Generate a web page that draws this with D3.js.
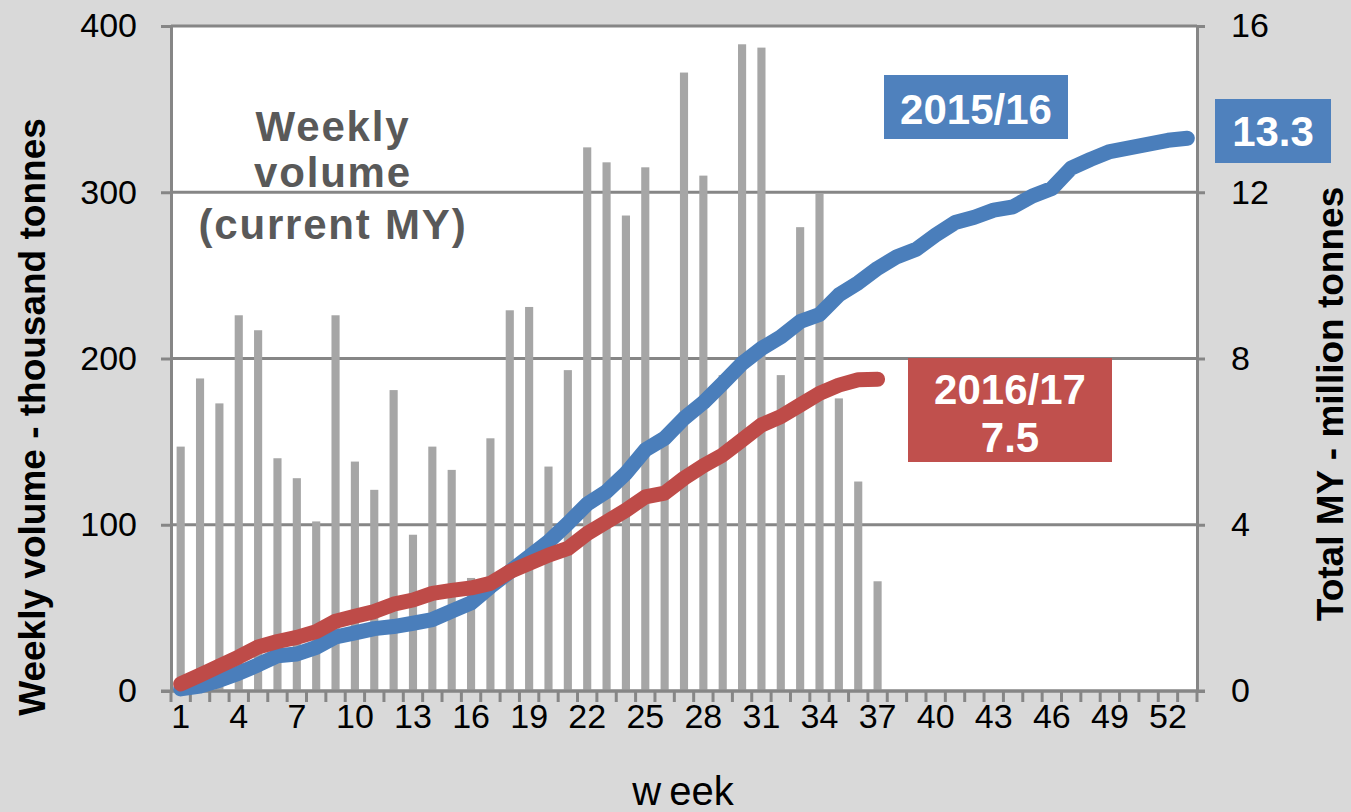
<!DOCTYPE html>
<html>
<head>
<meta charset="utf-8">
<script src="https://cdn.jsdelivr.net/npm/d3@7"></script>
<style>
  html, body { margin: 0; padding: 0; background: #d9d9d9; }
  svg { display: block; font-family: "Liberation Sans", Arial, sans-serif; }
</style>
</head>
<body>
<svg id="chart" width="1351" height="812"></svg>
<script>
// Weeks of the marketing year
const weeks = d3.range(1, 54);
const weekTickLabels = [1, 4, 7, 10, 13, 16, 19, 22, 25, 28, 31, 34, 37, 40, 43, 46, 49, 52];

// Weekly volume, current MY (thousand tonnes), weeks 1-37
const weeklyVolume = [
  147, 188, 173, 226, 217, 140, 128, 102, 226, 138,
  121, 181, 94, 147, 133, 68, 152, 229, 231, 135,
  193, 327, 318, 286, 315, 155, 372, 310, 190, 389,
  387, 190, 279, 299, 176, 126, 66
];

// Cumulative total, 2015/16 (million tonnes), weeks 1-53
const total2015 = [
  0.05, 0.12, 0.26, 0.43, 0.63, 0.85, 0.89, 1.05, 1.30, 1.40,
  1.50, 1.55, 1.63, 1.72, 1.92, 2.12, 2.51, 2.87, 3.23, 3.59,
  4.03, 4.50, 4.80, 5.24, 5.80, 6.08, 6.56, 6.94, 7.40, 7.88,
  8.24, 8.52, 8.89, 9.06, 9.53, 9.82, 10.17, 10.45, 10.63, 10.97,
  11.27, 11.40, 11.57, 11.65, 11.91, 12.09, 12.58, 12.79, 12.98, 13.07,
  13.16, 13.25, 13.3
];

// Cumulative total, 2016/17 (million tonnes), weeks 1-37
const total2016 = [
  0.17, 0.38, 0.60, 0.82, 1.06, 1.19, 1.29, 1.43, 1.68, 1.80,
  1.91, 2.09, 2.19, 2.35, 2.42, 2.48, 2.59, 2.87, 3.07, 3.27,
  3.43, 3.79, 4.07, 4.35, 4.67, 4.76, 5.12, 5.42, 5.68, 6.04,
  6.40, 6.60, 6.88, 7.16, 7.36, 7.49, 7.5
];

const leftTicks = [0, 100, 200, 300, 400];
const rightTicks = [0, 4, 8, 12, 16];

const svg = d3.select("#chart");
const W = 1351, H = 812;
const plot = { left: 171, right: 1197, top: 26, bottom: 691 };
const axisGrey = "#868686";
const barGrey = "#a6a6a6";
const blue = "#4a7ebb", blueBox = "#4f81bd";
const red = "#be4b48", redBox = "#c0504d";

svg.append("rect").attr("width", W).attr("height", H).attr("fill", "#d9d9d9");
svg.append("rect")
  .attr("x", plot.left).attr("y", plot.top)
  .attr("width", plot.right - plot.left).attr("height", plot.bottom - plot.top)
  .attr("fill", "#fff");

const x = d3.scaleBand().domain(weeks).range([plot.left, plot.right]).padding(0);
const yL = d3.scaleLinear().domain([0, 400]).range([plot.bottom, plot.top]);
const yR = d3.scaleLinear().domain([0, 16]).range([plot.bottom, plot.top]);
const cx = w => x(w) + x.bandwidth() / 2;

// horizontal gridlines
svg.append("g").selectAll("line").data(leftTicks).join("line")
  .attr("x1", plot.left).attr("x2", plot.right)
  .attr("y1", d => yL(d)).attr("y2", d => yL(d))
  .attr("stroke", axisGrey).attr("stroke-width", 3);

// weekly bars
const barW = x.bandwidth() * 0.42;
svg.append("g").selectAll("rect").data(weeklyVolume).join("rect")
  .attr("x", (d, i) => cx(weeks[i]) - barW / 2)
  .attr("width", barW)
  .attr("y", d => yL(d))
  .attr("height", d => yL(0) - yL(d))
  .attr("fill", barGrey);

// axes
const styleAxis = g => {
  g.selectAll(".domain").attr("stroke", axisGrey).attr("stroke-width", 3);
  g.selectAll(".tick line").attr("stroke", axisGrey).attr("stroke-width", 3);
  g.selectAll(".tick text").attr("fill", "#000").style("font-size", "34px")
    .style("font-family", "'Liberation Sans', Arial, sans-serif");
};

svg.append("g").attr("transform", `translate(${plot.left},0)`)
  .call(d3.axisLeft(yL).tickValues(leftTicks).tickSize(10).tickSizeOuter(0).tickPadding(24))
  .call(styleAxis);

svg.append("g").attr("transform", `translate(${plot.right},0)`)
  .call(d3.axisRight(yR).tickValues(rightTicks).tickSize(8).tickSizeOuter(0).tickPadding(26))
  .call(styleAxis);

const xAxis = svg.append("g").attr("transform", `translate(0,${plot.bottom})`)
  .call(d3.axisBottom(x).tickValues(weekTickLabels).tickSize(0).tickSizeOuter(0).tickPadding(13))
  .call(styleAxis);
xAxis.selectAll(".domain").remove();

// category-boundary tick marks
const boundaries = weeks.map(w => x(w)).concat([plot.right]);
svg.append("g").selectAll("line").data(boundaries).join("line")
  .attr("x1", d => d).attr("x2", d => d)
  .attr("y1", plot.bottom).attr("y2", plot.bottom + 11)
  .attr("stroke", axisGrey).attr("stroke-width", 3);
svg.append("line")
  .attr("x1", plot.left - 10).attr("x2", plot.right + 8)
  .attr("y1", plot.bottom).attr("y2", plot.bottom)
  .attr("stroke", axisGrey).attr("stroke-width", 3);

// cumulative lines
const line = d3.line().x((d, i) => cx(weeks[i])).y(d => yR(d));
svg.append("path").datum(total2015).attr("d", line)
  .attr("fill", "none").attr("stroke", blue).attr("stroke-width", 15)
  .attr("stroke-linecap", "round").attr("stroke-linejoin", "round");
svg.append("path").datum(total2016).attr("d", line)
  .attr("fill", "none").attr("stroke", red).attr("stroke-width", 15)
  .attr("stroke-linecap", "round").attr("stroke-linejoin", "round");

// axis titles
svg.append("text")
  .attr("transform", "translate(45,417) rotate(-90)")
  .attr("text-anchor", "middle").attr("font-weight", "bold").attr("font-size", 37)
  .attr("fill", "#000").text("Weekly volume - thousand tonnes");
svg.append("text")
  .attr("transform", "translate(1343,404) rotate(-90)")
  .attr("text-anchor", "middle").attr("font-weight", "bold").attr("font-size", 37)
  .attr("fill", "#000").text("Total MY - million tonnes");
const xt = svg.append("text")
  .attr("x", 683).attr("y", 805).attr("text-anchor", "middle")
  .attr("font-size", 40).attr("fill", "#000");
xt.append("tspan").text("w");
xt.append("tspan").attr("dx", 8).text("eek");

// bars annotation
const note = svg.append("text").attr("text-anchor", "middle")
  .attr("font-weight", "bold").attr("font-size", 42).attr("letter-spacing", 1.8)
  .attr("fill", "#595959");
[["Weekly", 141], ["volume", 187], ["(current MY)", 239]].forEach(([t, yy]) => {
  note.append("tspan").attr("x", 333).attr("y", yy).text(t);
});

// series labels
const fmt = d3.format(".1f");
function labelBox(rx, ry, rw, rh, fill, lines) {
  svg.append("rect").attr("x", rx).attr("y", ry).attr("width", rw).attr("height", rh).attr("fill", fill);
  const t = svg.append("text").attr("text-anchor", "middle")
    .attr("font-weight", "bold").attr("font-size", 42).attr("fill", "#fff");
  lines.forEach(([s, yy]) => t.append("tspan").attr("x", rx + rw / 2).attr("y", yy).text(s));
}
labelBox(884, 75, 184, 64, blueBox, [["2015/16", 124]]);
labelBox(1215, 99, 116, 64, blueBox, [[fmt(total2015[total2015.length - 1]), 146]]);
labelBox(908, 358, 204, 104, redBox, [["2016/17", 404], [fmt(total2016[total2016.length - 1]), 452]]);
</script>
</body>
</html>
